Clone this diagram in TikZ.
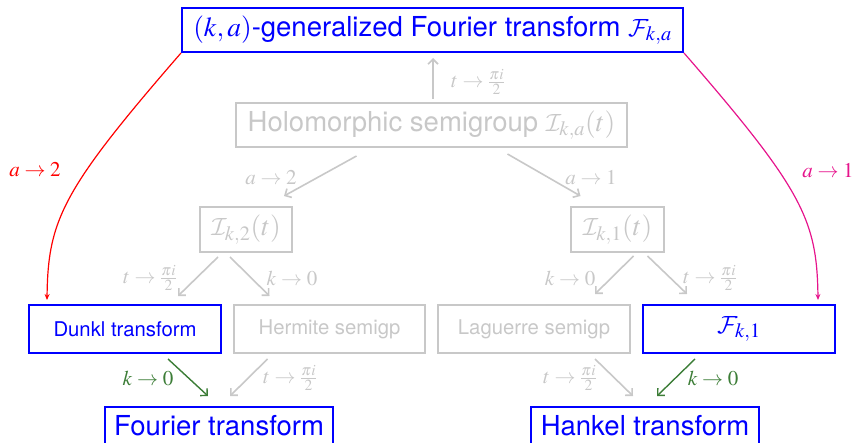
\documentclass[tikz,border=0pt]{standalone}
\usepackage{mathptmx}
\DeclareMathAlphabet{\mathcal}{OMS}{cmsy}{m}{n}
\usepackage[no-math]{fontspec}
\setmainfont{TeX Gyre Heros}
\usetikzlibrary{calc,arrows.meta}
\definecolor{gr}{RGB}{200,200,200}
\definecolor{bl}{RGB}{0,0,255}
\definecolor{dg}{RGB}{60,125,55}
\definecolor{mg}{RGB}{230,20,140}
\definecolor{rd}{RGB}{255,0,0}
\begin{document}
\begin{tikzpicture}[x=1pt,y=-1pt,
  bbox/.style={draw=bl,line width=2pt,text=bl,inner sep=0pt},
  gbox/.style={draw=gr,line width=2pt,text=gr,inner sep=0pt},
  garr/.style={draw=gr,line width=1.6pt,-{Straight Barb[length=5pt,width=10pt]}},
  grarr/.style={draw=dg,line width=1.4pt,-{Straight Barb[length=5pt,width=10pt]}},
  curv/.style={line width=1.2pt,-{Stealth[length=6pt,width=5pt]}},
  lab/.style={inner sep=0pt,font=\fontsize{21}{24}\selectfont},
  big/.style={font=\fontsize{27.5}{30}\selectfont},
  mid/.style={font=\fontsize{20.3}{24}\selectfont}]
\useasboundingbox (0,0) rectangle (856,443);
\node[bbox,big,minimum width=501pt,minimum height=44pt] (top) at (432.5,30) {$(k,a)$-generalized Fourier transform $\mathcal{F}_{k,a}$};
\node[gbox,big,minimum width=391pt,minimum height=44pt] (holo) at (431.5,125) {Holomorphic semigroup $\mathcal{I}_{k,a}(t)$};
\node[gbox,big,minimum width=92pt,minimum height=45pt] (i2) at (246,229.5) {$\mathcal{I}_{k,2}(t)$};
\node[gbox,big,minimum width=93pt,minimum height=45pt] (i1) at (617.5,229.5) {$\mathcal{I}_{k,1}(t)$};
\node[bbox,mid,minimum width=192pt,minimum height=48pt] (dunkl) at (125,329) {Dunkl transform};
\node[gbox,mid,minimum width=191pt,minimum height=48pt] (herm) at (329.5,329) {Hermite semigp};
\node[gbox,mid,minimum width=192pt,minimum height=48pt] (lag) at (534,329) {Laguerre semigp};
\node[bbox,big,minimum width=192pt,minimum height=48pt] (fk1) at (739,329) {$\mathcal{F}_{k,1}$};
\node[bbox,big,minimum width=228pt,minimum height=38pt] (four) at (219,426) {Fourier transform};
\node[bbox,big,minimum width=228pt,minimum height=38pt] (hank) at (645,426) {Hankel transform};
% connectors
\draw[garr] ($(holo.north)+(1.5,-3)$) -- ($(top.south)+(0.5,5)$);
\draw[garr] ($(holo.south)+(-75,8)$) -- ($(i2.north)+(38,-10)$);
\draw[garr] ($(holo.south)+(76,6)$) -- ($(i1.north)+(-37,-10)$);
\draw[garr] ($(i2.south)+(-28,4)$) -- ($(dunkl.north)+(53,-8)$);
\draw[garr] ($(i2.south)+(-16,4)$) -- ($(herm.north)+(-60,-8)$);
\draw[garr] ($(i1.south)+(16,3)$) -- ($(lag.north)+(61,-10)$);
\draw[garr] ($(i1.south)+(30,3)$) -- ($(fk1.north)+(-52,-10)$);
\draw[grarr] ($(dunkl.south)+(43,5)$) -- ($(four.north)+(-11,-10)$);
\draw[garr] ($(herm.south)+(-62,5)$) -- ($(four.north)+(11,-10)$);
\draw[garr] ($(lag.south)+(61,5)$) -- ($(hank.north)+(-12,-10)$);
\draw[grarr] ($(fk1.south)+(-44,5)$) -- ($(hank.north)+(12,-10)$);
\coordinate (dtip) at ($(dunkl.north west)+(19,-4)$);
\coordinate (ftip) at ($(fk1.north east)+(-18,-4)$);
\draw[rd,curv] (top.south west) .. controls (62,190) and (48,220) .. (dtip);
\draw[mg,curv] (top.south east) .. controls (803,190) and (817,220) .. (ftip);
% labels
\node[lab,text=gr] (l0) at (478,82) {$t\to\frac{\pi i}{2}$};
\node[lab,text=gr] (l1) at (271,178) {$a\to2$};
\node[lab,text=gr] (l2) at (591,178) {$a\to1$};
\node[lab,text=gr] (l3) at (150,278) {$t\to\frac{\pi i}{2}$};
\node[lab,text=gr] (l4) at (292,278) {$k\to0$};
\node[lab,text=gr] (l5) at (570,278) {$k\to0$};
\node[lab,text=gr] (l6) at (710,278) {$t\to\frac{\pi i}{2}$};
\node[lab,text=dg] (l7) at (148,378) {$k\to0$};
\node[lab,text=gr] (l8) at (290,378) {$t\to\frac{\pi i}{2}$};
\node[lab,text=gr] (l9) at (570,378) {$t\to\frac{\pi i}{2}$};
\node[lab,text=dg] (l10) at (713,378) {$k\to0$};
\node[lab,text=rd] (l11) at (35,170) {$a\to2$};
\node[lab,text=mg] (l12) at (828,171) {$a\to1$};
\end{tikzpicture}
\end{document}
